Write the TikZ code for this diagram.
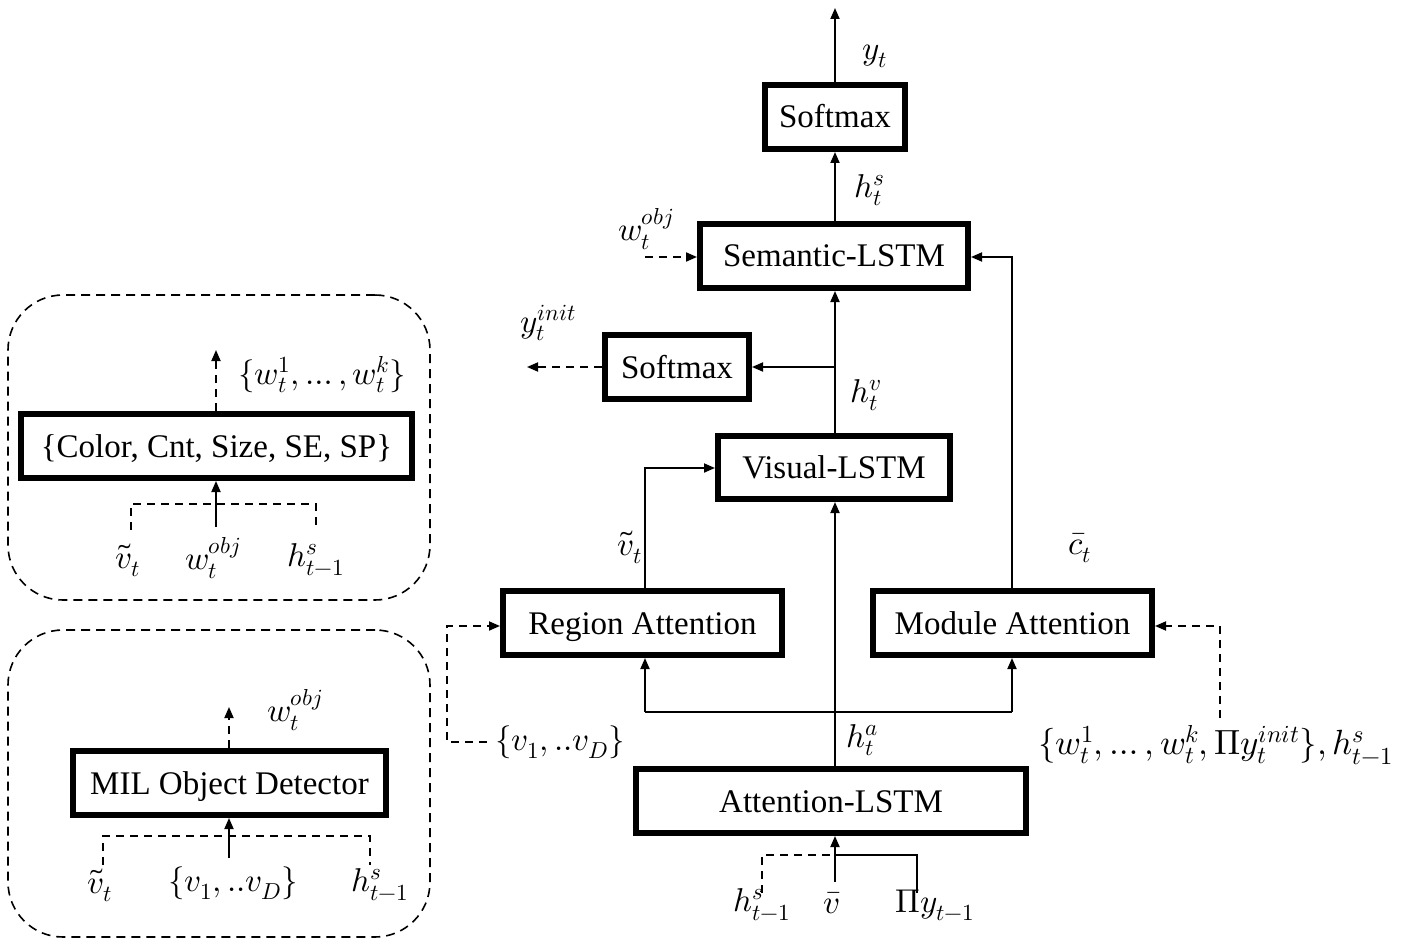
\documentclass[tikz,border=0pt]{standalone}
\usepackage{fontspec}
\usepackage{unicode-math}
\setmainfont{Liberation Serif}
\usetikzlibrary{arrows.meta}
\begin{document}
\begin{tikzpicture}[x=1pt,y=-1pt,
  box/.style={draw, line width=6pt, minimum height=64pt, inner sep=0pt, text height=26pt, text depth=4pt, font=\fontsize{33}{40}\selectfont},
  lbl/.style={inner sep=0pt, font=\fontsize{33}{40}\selectfont},
  arr/.style={line width=1.8pt, -{Triangle[length=11pt,width=9pt]}},
  ln/.style={line width=1.8pt},
  dsh/.style={line width=1.8pt, dash pattern=on 8pt off 6pt},
  darr/.style={dsh, -{Triangle[length=11pt,width=9pt]}},
  group/.style={draw, line width=1.6pt, dash pattern=on 9pt off 6pt, rounded corners=55pt, inner sep=0pt}]
\useasboundingbox (0,0) rectangle (1406,944);

% groups
\node[group, minimum width=422, minimum height=305] (g1) at (219,447.5) {};
\node[group, minimum width=422, minimum height=307] (g2) at (219,783.5) {};

% main boxes
\node[box, minimum width=140] (sm1) at (835,117) {Softmax};
\node[box, minimum width=268] (sem) at (834,256) {Semantic-LSTM};
\node[box, minimum width=144] (sm2) at (677,367) {Softmax};
\node[box, minimum width=232, minimum height=63] (vis) at (834,467.5) {Visual-LSTM};
\node[box, minimum width=279] (reg) at (642.5,623) {Region Attention};
\node[box, minimum width=279] (mod) at (1012.5,623) {Module Attention};
\node[box, minimum width=390] (att) at (831,801) {Attention-LSTM};
\node[box, minimum width=391] (col) at (216.5,446) {\{Color, Cnt, Size, SE, SP\}};
\node[box, minimum width=313] (mil) at (229.5,783) {MIL Object Detector};

% coordinates
\coordinate (ax) at (835,0);
\coordinate (top) at (835,8);
\coordinate (br) at (835,367);
\coordinate (hl) at (645,712);
\coordinate (hr) at (1012,712);
\coordinate (rv) at (645,468);
\coordinate (mv) at (1012,257);
\coordinate (wo) at (645,257);
\coordinate (yi) at (527,367);
\coordinate (vd1) at (487,742);
\coordinate (vd2) at (447,742);
\coordinate (vd3) at (447,626);
\coordinate (rw1) at (1220,718);
\coordinate (rw2) at (1220,626);
\coordinate (b1) at (762,893);
\coordinate (b1t) at (762,855);
\coordinate (b3) at (917,893);
\coordinate (b3t) at (917,855);
\coordinate (bj) at (835,855);
\coordinate (b2) at (835,882);

% main vertical flow
\draw[arr] (att.north -| ax) -- (vis.south -| ax);
\draw[arr] (vis.north -| ax) -- (sem.south -| ax);
\draw[arr] (br) -- (sm2.east);
\draw[arr] (sem.north -| ax) -- (sm1.south -| ax);
\draw[arr] (sm1.north -| ax) -- (top);
% attention branch
\draw[ln] (hl) -- (hr);
\draw[arr] (hl) -- (reg.south -| hl);
\draw[arr] (hr) -- (mod.south -| hr);
\draw[arr] (reg.north -| rv) -- (rv) -- (vis.west |- rv);
\draw[arr] (mod.north -| mv) -- (mv) -- (sem.east |- mv);
% dashed inputs/outputs
\draw[darr] (wo) -- (sem.west |- wo);
\draw[darr] (sm2.west) -- (yi);
\draw[darr] (vd1) -- (vd2) -- (vd3) -- (reg.west |- vd3);
\draw[darr] (rw1) -- (rw2) -- (mod.east |- rw2);
% bottom inputs
\draw[dsh] (b1) -- (b1t) -- (bj);
\draw[ln] (b3) -- (b3t) -- (bj);
\draw[arr] (b2) -- (att.south -| b2);

% labels main
\node[lbl] (lyt) at (875,56) {$y_t$};
\node[lbl] (lhs) at (870,190) {$h_t^s$};
\node[lbl] (lwo) at (646,229) {$w_t^{obj}$};
\node[lbl] (lyi) at (548,323) {$y_t^{init}$};
\node[lbl] (lhv) at (866,395) {$h_t^v$};
\node[lbl] (lvt) at (630,547) {$\tilde{v}_t$};
\node[lbl] (lct) at (1080,548) {$\bar{c}_t$};
\node[lbl] (lha) at (862,740) {$h_t^a$};
\node[lbl] (lvd) at (560,742) {$\{v_1,..v_D\}$};
\node[lbl, font=\fontsize{35}{42}\selectfont] (lrw) at (1216,745) {$\{w_t^1,\ldots,w_t^k,\Pi y_t^{init}\},h_{t-1}^s$};
\node[lbl] (lb1) at (762,905) {$h_{t-1}^s$};
\node[lbl] (lb2) at (832,903) {$\bar{v}$};
\node[lbl] (lb3) at (935,905) {$\Pi y_{t-1}$};

% group 1
\coordinate (c1) at (216,350);
\coordinate (p1) at (131,504);
\coordinate (p1b) at (131,530);
\coordinate (p3) at (316,504);
\coordinate (p3b) at (316,530);
\coordinate (p2) at (216,527);
\draw[darr] (col.north -| c1) -- (c1);
\draw[dsh] (p1b) -- (p1) -- (p3) -- (p3b);
\draw[arr] (p2) -- (col.south -| p2);
\node[lbl] (lwk) at (322,375) {$\{w_t^1,\ldots,w_t^k\}$};
\node[lbl] (l1a) at (128,560) {$\tilde{v}_t$};
\node[lbl] (l1b) at (213,558) {$w_t^{obj}$};
\node[lbl] (l1c) at (316,560) {$h_{t-1}^s$};

% group 2
\coordinate (c2) at (229,707);
\coordinate (q1) at (103,836);
\coordinate (q1b) at (103,865);
\coordinate (q3) at (370,836);
\coordinate (q3b) at (370,865);
\coordinate (q2) at (229,858);
\draw[darr] (mil.north -| c2) -- (c2);
\draw[dsh] (q1b) -- (q1) -- (q3) -- (q3b);
\draw[arr] (q2) -- (mil.south -| q2);
\node[lbl] (lwo2) at (295,710) {$w_t^{obj}$};
\node[lbl] (l2a) at (100,885) {$\tilde{v}_t$};
\node[lbl] (l2b) at (233,883) {$\{v_1,..v_D\}$};
\node[lbl] (l2c) at (380,885) {$h_{t-1}^s$};
\end{tikzpicture}
\end{document}
